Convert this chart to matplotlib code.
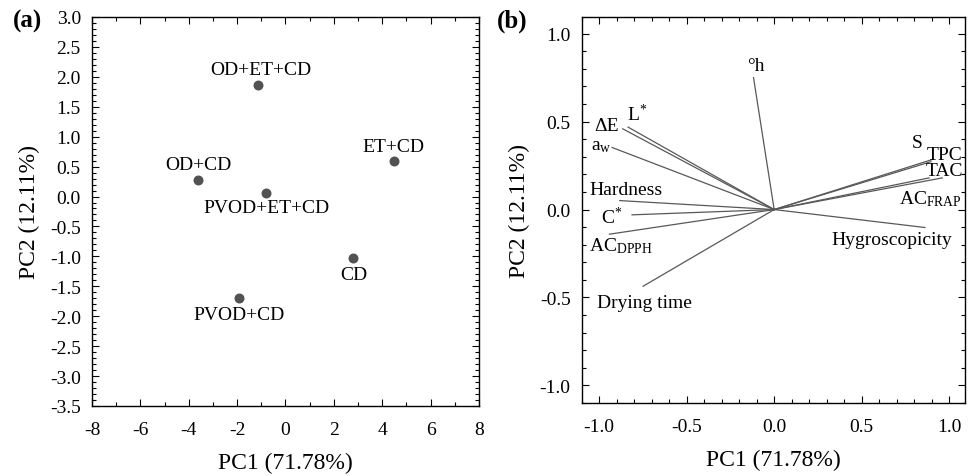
import matplotlib
matplotlib.use('Agg')
import matplotlib.pyplot as plt
from matplotlib.ticker import MultipleLocator, FormatStrFormatter

plt.rcParams['font.family'] = ['Liberation Serif', 'DejaVu Serif']
plt.rcParams['mathtext.fontset'] = 'custom'
plt.rcParams['mathtext.rm'] = 'Liberation Serif'
plt.rcParams['mathtext.it'] = 'Liberation Serif'
plt.rcParams['mathtext.default'] = 'rm'
plt.rcParams['axes.unicode_minus'] = False

# Scores plot (a)
samples = ['OD+ET+CD', 'ET+CD', 'OD+CD', 'PVOD+ET+CD', 'CD', 'PVOD+CD']
pc1_scores = [-1.13, 4.47, -3.60, -0.80, 2.81, -1.94]
pc2_scores = [1.87, 0.60, 0.28, 0.06, -1.03, -1.69]
sample_label_pos = [(-1.0, 2.13), (4.47, 0.84), (-3.6, 0.54),
                    (-0.8, -0.19), (2.81, -1.30), (-1.94, -1.97)]

# Loadings plot (b)
variables = ['°h', 'L$^{*}$', 'ΔE', 'a$_{w}$', 'Hardness', 'C$^{*}$',
             'AC$_{DPPH}$', 'Drying time', 'S', 'TPC', 'TAC',
             'AC$_{FRAP}$', 'Hygroscopicity']
pc1_load = [-0.118, -0.835, -0.865, -0.926, -0.882, -0.812, -0.941, -0.749,
            0.905, 0.895, 0.885, 0.96, 0.861]
pc2_load = [0.75, 0.469, 0.459, 0.353, 0.051, -0.030, -0.140, -0.436,
            0.285, 0.272, 0.18, 0.18, -0.102]
var_label_pos = [(-0.105, 0.82), (-0.783, 0.545), (-0.958, 0.478),
                 (-0.99, 0.364), (-0.846, 0.114), (-0.926, -0.038),
                 (-0.878, -0.205), (-0.741, -0.531), (0.819, 0.38),
                 (0.975, 0.311), (0.975, 0.222), (0.894, 0.065),
                 (0.671, -0.171)]


def style_axes(ax):
    ax.tick_params(which='both', direction='in', top=True, right=True,
                   labelsize=14, width=0.8)
    ax.tick_params(axis='x', which='both', pad=11)
    ax.tick_params(axis='y', which='both', pad=8)
    ax.tick_params(which='major', length=5)
    ax.tick_params(which='minor', length=3)
    for sp in ax.spines.values():
        sp.set_linewidth(1.0)


fig = plt.figure(figsize=(9.71, 4.77), dpi=100)
ax1 = fig.add_axes([0.0947, 0.1468, 0.3986, 0.8155])
ax2 = fig.add_axes([0.599, 0.153, 0.3948, 0.8093])

ax1.scatter(pc1_scores, pc2_scores, s=38, color='#525252', zorder=3)
for name, (tx, ty) in zip(samples, sample_label_pos):
    ax1.text(tx, ty, name, ha='center', va='center', fontsize=14)
ax1.set_xlim(-8, 8)
ax1.set_ylim(-3.5, 3.0)
ax1.xaxis.set_major_locator(MultipleLocator(2))
ax1.xaxis.set_minor_locator(MultipleLocator(1))
ax1.yaxis.set_major_locator(MultipleLocator(0.5))
ax1.yaxis.set_minor_locator(MultipleLocator(0.1))
ax1.yaxis.set_major_formatter(FormatStrFormatter('%.1f'))
ax1.set_xlabel('PC1 (71.78%)', fontsize=17, labelpad=10)
ax1.set_ylabel('PC2 (12.11%)', fontsize=17, labelpad=7)
style_axes(ax1)

for x, y in zip(pc1_load, pc2_load):
    ax2.plot([0, x], [0, y], color='#585858', lw=0.9)
for name, (tx, ty) in zip(variables, var_label_pos):
    ax2.text(tx, ty, name, ha='center', va='center', fontsize=14)
ax2.set_xlim(-1.1, 1.09)
ax2.set_ylim(-1.1, 1.095)
ax2.xaxis.set_major_locator(MultipleLocator(0.5))
ax2.xaxis.set_minor_locator(MultipleLocator(0.1))
ax2.yaxis.set_major_locator(MultipleLocator(0.5))
ax2.yaxis.set_minor_locator(MultipleLocator(0.1))
ax2.xaxis.set_major_formatter(FormatStrFormatter('%.1f'))
ax2.yaxis.set_major_formatter(FormatStrFormatter('%.1f'))
ax2.set_xlabel('PC1 (71.78%)', fontsize=17, labelpad=10)
ax2.set_ylabel('PC2 (12.11%)', fontsize=17, labelpad=7)
style_axes(ax2)

fig.text(0.013, 0.955, '(a)', fontsize=18, fontweight='bold', va='center')
fig.text(0.512, 0.955, '(b)', fontsize=18, fontweight='bold', va='center')

fig.savefig('out.png', dpi=100)
